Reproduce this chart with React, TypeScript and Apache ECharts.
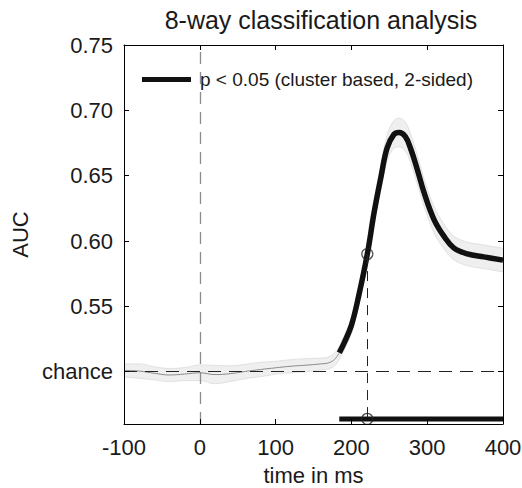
import React, { useEffect, useRef } from "react";
import * as echarts from "echarts";

// ---- data ----
const timeMs = [-100, -80, -60, -40, -20, 0, 20, 40, 60, 80, 100, 120, 140, 160, 170, 178, 184, 190, 200, 210, 221, 230, 239, 247, 256, 263, 271, 278, 287, 296, 309, 322, 335, 353, 375, 400];
const meanAUC = [0.501, 0.5005, 0.4988, 0.4975, 0.4982, 0.4992, 0.4978, 0.4985, 0.5002, 0.5017, 0.503, 0.5042, 0.505, 0.506, 0.5068, 0.5095, 0.5145, 0.5215, 0.5355, 0.559, 0.59, 0.622, 0.649, 0.671, 0.6815, 0.683, 0.68, 0.671, 0.6546, 0.6368, 0.6164, 0.6037, 0.5948, 0.5902, 0.5879, 0.5854];
const ciHalfWidth = [0.005, 0.0055, 0.005, 0.005, 0.005, 0.006, 0.007, 0.006, 0.0055, 0.0055, 0.005, 0.005, 0.005, 0.0045, 0.0045, 0.005, 0.005, 0.0055, 0.006, 0.007, 0.008, 0.009, 0.0095, 0.01, 0.0105, 0.011, 0.011, 0.011, 0.011, 0.0105, 0.01, 0.0095, 0.009, 0.009, 0.009, 0.009];
const sigStartMs = 184;
const sigEndMs = 400;
const sigBarLevel = 0.4639;
const onsetMs = 221;
const onsetAUC = 0.59;
const chanceLevel = 0.5;
const yMin = 0.46;
const xTicks = [-100, 0, 100, 200, 300, 400];
const yTicks = [0.5, 0.55, 0.6, 0.65, 0.7, 0.75];
const legendLabel = "p < 0.05 (cluster based, 2-sided)";
const titleText = "8-way classification analysis";

const FONT = "'Liberation Sans', Arial, Helvetica, sans-serif";

export default function App() {
  const ref = useRef<HTMLDivElement>(null);
  useEffect(() => {
    if (!ref.current) return;
    const chart = echarts.init(ref.current, undefined, { renderer: "svg" });
    const sigIdx = timeMs.indexOf(sigStartMs);
    const pts = timeMs.map((t, i) => [t, meanAUC[i]]);
    const lower = timeMs.map((t, i) => [t, meanAUC[i] - ciHalfWidth[i]]);
    const upper = timeMs.map((t, i) => [t, meanAUC[i] + ciHalfWidth[i]]);
    const thin = pts.slice(0, sigIdx + 1);
    const thick = pts.slice(sigIdx);

    const xCommon = {
      type: "value",
      min: xTicks[0],
      max: xTicks[xTicks.length - 1],
      interval: 100,
      z: 10,
      splitLine: { show: false },
      axisLine: { show: true, onZero: false, lineStyle: { color: "#000", width: 1 } },
      axisTick: { show: true, inside: true, length: 5, lineStyle: { color: "#000" } },
    };
    const yCommon = {
      type: "value",
      min: yMin,
      max: 0.75,
      z: 10,
      splitLine: { show: false },
      axisLine: { show: true, onZero: false, lineStyle: { color: "#000", width: 1 } },
      axisTick: { show: true, inside: true, length: 5, customValues: yTicks, lineStyle: { color: "#000" } },
    };

    chart.setOption({
      animation: false,
      title: {
        text: titleText,
        left: 316,
        textAlign: "center",
        top: 2,
        textStyle: { fontFamily: FONT, fontSize: 25, fontWeight: "normal", color: "#1a1a1a" },
      },
      legend: {
        left: 137,
        top: 65,
        itemWidth: 49,
        itemHeight: 5,
        icon: "rect",
        selectedMode: false,
        data: [{ name: legendLabel, itemStyle: { color: "#111" } }],
        textStyle: { fontFamily: FONT, fontSize: 19, color: "#1a1a1a", padding: [0, 0, 0, 4] },
      },
      grid: { left: 124, right: 19, top: 45, bottom: 64, containLabel: false, outerBoundsMode: "none" },
      xAxis: [
        {
          ...xCommon,
          position: "bottom",
          name: "time in ms",
          nameLocation: "middle",
          nameGap: 40,
          nameTextStyle: { fontFamily: FONT, fontSize: 22, color: "#1a1a1a" },
          axisLabel: { show: true, margin: 12, fontFamily: FONT, fontSize: 22, color: "#1a1a1a" },
        },
        { ...xCommon, position: "top", axisLabel: { show: false } },
      ],
      yAxis: [
        {
          ...yCommon,
          position: "left",
          name: "AUC",
          nameLocation: "middle",
          nameGap: 92,
          nameTextStyle: { fontFamily: FONT, fontSize: 22, color: "#1a1a1a" },
          axisLabel: {
            show: true,
            margin: 11,
            customValues: yTicks,
            fontFamily: FONT,
            fontSize: 22,
            color: "#1a1a1a",
            formatter: (v: number) => (Math.abs(v - chanceLevel) < 1e-6 ? "chance" : v.toFixed(2)),
          },
        },
        { ...yCommon, position: "right", axisLabel: { show: false } },
      ],
      series: [
        {
          name: "ci upper",
          type: "line",
          data: upper,
          smooth: 0.4,
          showSymbol: false,
          silent: true,
          lineStyle: { color: "#dadada", width: 0.8 },
          areaStyle: { color: "#efefef", opacity: 1, origin: "start" },
          z: 1,
        },
        {
          name: "ci lower",
          type: "line",
          data: lower,
          smooth: 0.4,
          showSymbol: false,
          silent: true,
          lineStyle: { color: "#dadada", width: 0.8 },
          areaStyle: { color: "#ffffff", opacity: 1, origin: "start" },
          z: 1,
        },
        {
          name: "refs",
          type: "line",
          data: [],
          silent: true,
          z: 2,
          markLine: {
            silent: true,
            symbol: "none",
            label: { show: false },
            data: [
              { xAxis: 0, lineStyle: { color: "#8c8c8c", width: 1.3, type: [12, 8] } },
              { yAxis: chanceLevel, lineStyle: { color: "#222", width: 1, type: [13, 8] } },
              [
                { coord: [onsetMs, onsetAUC], lineStyle: { color: "#222", width: 1, type: [10, 7] } },
                { coord: [onsetMs, yMin] },
              ],
            ],
          },
        },
        {
          name: "mean (n.s.)",
          type: "line",
          data: thin,
          smooth: 0.4,
          showSymbol: false,
          lineStyle: { color: "#8a8a8a", width: 1 },
          z: 3,
        },
        {
          name: "mean (sig.)",
          type: "line",
          data: thick,
          smooth: 0.4,
          showSymbol: false,
          lineStyle: { color: "#111", width: 5.5, cap: "butt" },
          z: 4,
        },
        {
          name: legendLabel,
          type: "line",
          data: [
            [sigStartMs, sigBarLevel],
            [sigEndMs, sigBarLevel],
          ],
          showSymbol: false,
          lineStyle: { color: "#111", width: 5, cap: "butt" },
          itemStyle: { color: "#111" },
          z: 4,
        },
        {
          name: "onset",
          type: "scatter",
          data: [
            [onsetMs, onsetAUC],
            [onsetMs, sigBarLevel],
          ],
          symbol: "circle",
          symbolSize: 11,
          itemStyle: { color: "rgba(0,0,0,0)", borderColor: "#222", borderWidth: 1.2 },
          z: 5,
        },
      ],
    });
    return () => chart.dispose();
  }, []);
  return <div ref={ref} style={{ position: "absolute", left: 0, top: 0, width: 522, height: 488, background: "#fff" }} />;
}
